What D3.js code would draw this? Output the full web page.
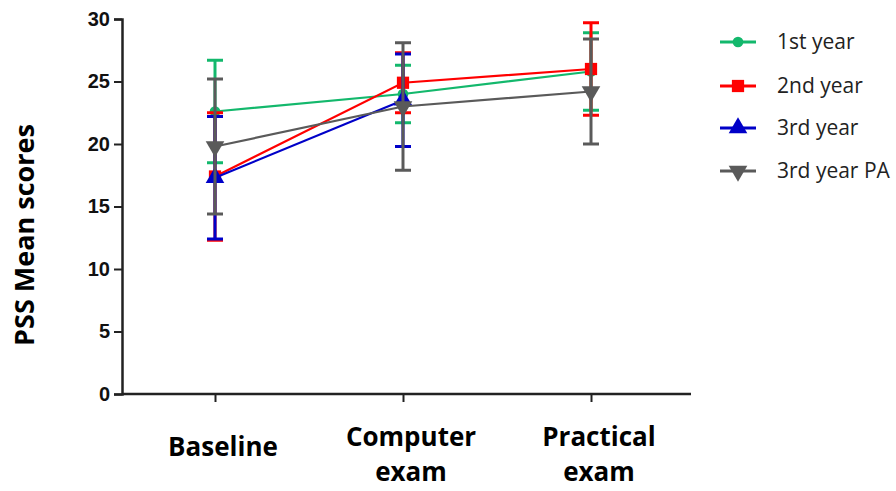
<!DOCTYPE html>
<html>
<head>
<meta charset="utf-8">
<script src="https://cdn.jsdelivr.net/npm/d3@7"></script>
<style>
  body { margin: 0; background: #fff; }
</style>
</head>
<body>
<div id="myChart"></div>
<script>
// data
const categories = ["Baseline", "Computer exam", "Practical exam"];
const seriesNames = ["1st year", "2nd year", "3rd year", "3rd year PA"];
const firstYearMean = [22.6, 24.0, 25.8];
const firstYearSD = [4.1, 2.3, 3.1];
const secondYearMean = [17.4, 24.9, 26.0];
const secondYearSD = [5.1, 2.4, 3.7];
const thirdYearMean = [17.3, 23.5];
const thirdYearSD = [4.9, 3.7];
const paMean = [19.8, 23.0, 24.2];
const paSD = [5.4, 5.1, 4.2];
const yTicks = [0, 5, 10, 15, 20, 25, 30];

const colors = ["#13b86c", "#ff0000", "#0000c8", "#5a5a5a"];
const symbols = [d3.symbolCircle, d3.symbolSquare, d3.symbolTriangle, d3.symbolTriangle];

const series = [
  { name: seriesNames[0], mean: firstYearMean, sd: firstYearSD },
  { name: seriesNames[1], mean: secondYearMean, sd: secondYearSD },
  { name: seriesNames[2], mean: thirdYearMean, sd: thirdYearSD },
  { name: seriesNames[3], mean: paMean, sd: paSD }
];

const W = 896, H = 491;
const svg = d3.select("#myChart").append("svg")
  .attr("width", W).attr("height", H);

const y = d3.scaleLinear().domain([0, 30]).range([394, 19]);
const x = d3.scalePoint().domain(categories).range([215, 591]);

// y axis
const yAxis = svg.append("g")
  .attr("transform", "translate(122,0)")
  .call(d3.axisLeft(y).tickValues(yTicks).tickSize(8).tickPadding(4));
yAxis.select(".domain").attr("stroke", "#222").attr("stroke-width", 2.5);
yAxis.selectAll(".tick line").attr("stroke", "#222").attr("stroke-width", 2);
yAxis.selectAll("text")
  .style("font-family", "'Liberation Sans', Arial, sans-serif")
  .style("font-weight", "bold")
  .style("font-size", "20px")
  .attr("fill", "#111");

// x axis
const xAxis = svg.append("g")
  .attr("transform", "translate(0,394)")
  .call(d3.axisBottom(x).tickSize(8).tickSizeOuter(0).tickFormat(""));
xAxis.select(".domain").attr("d", "M122,0H691").attr("stroke", "#222").attr("stroke-width", 2.5);
xAxis.selectAll(".tick line").attr("stroke", "#222").attr("stroke-width", 2);

// category labels
const catLines = [["Baseline"], ["Computer", "exam"], ["Practical", "exam"]];
categories.forEach((c, i) => {
  const t = svg.append("text")
    .attr("x", x(c) + 8)
    .attr("y", catLines[i].length === 1 ? 456 : 446)
    .attr("text-anchor", "middle")
    .style("font-family", "'Open Sans', sans-serif")
    .style("font-weight", "bold")
    .style("font-size", "26px")
    .attr("fill", "#000");
  catLines[i].forEach((ln, j) => {
    t.append("tspan").attr("x", x(c) + 8).attr("dy", j === 0 ? 0 : 35).text(ln);
  });
});

// y label
svg.append("text")
  .attr("transform", "translate(34,235) rotate(-90)")
  .attr("text-anchor", "middle")
  .style("font-family", "'Open Sans', sans-serif")
  .style("font-weight", "bold")
  .style("font-size", "27px")
  .attr("fill", "#000")
  .text("PSS Mean scores");

// lines, error bars, markers
const line = d3.line().x((d, i) => x(categories[i])).y((d) => y(d));
const capW = 8;

series.forEach((s, k) => {
  const g = svg.append("g");
  g.append("path")
    .datum(s.mean)
    .attr("d", line)
    .attr("fill", "none")
    .attr("stroke", colors[k])
    .attr("stroke-width", 2.2);

  s.mean.forEach((m, i) => {
    const cx = x(categories[i]);
    const lo = y(m - s.sd[i]), hi = y(m + s.sd[i]);
    g.append("line").attr("x1", cx).attr("x2", cx).attr("y1", lo).attr("y2", hi)
      .attr("stroke", colors[k]).attr("stroke-width", 3);
    [lo, hi].forEach((yy) => {
      g.append("line").attr("x1", cx - capW).attr("x2", cx + capW).attr("y1", yy).attr("y2", yy)
        .attr("stroke", colors[k]).attr("stroke-width", 3);
    });
  });

  g.selectAll(".pt")
    .data(s.mean)
    .enter()
    .append("path")
    .attr("d", d3.symbol().type(symbols[k]).size(k === 0 ? 90 : 150))
    .attr("transform", (d, i) => "translate(" + x(categories[i]) + "," + y(d) + ")" + (k === 3 ? " rotate(180)" : ""))
    .attr("fill", colors[k]);
});

// legend
const legY = [42, 86, 128, 171];
series.forEach((s, k) => {
  const lg = svg.append("g").attr("transform", "translate(738," + legY[k] + ")");
  lg.append("line").attr("x1", -18).attr("x2", 18).attr("stroke", colors[k]).attr("stroke-width", 3);
  lg.append("path")
    .attr("d", d3.symbol().type(symbols[k]).size(k === 0 ? 90 : 150))
    .attr("transform", k === 3 ? "rotate(180)" : null)
    .attr("fill", colors[k]);
  lg.append("text")
    .attr("x", 39).attr("dy", "0.35em")
    .style("font-family", "'Open Sans', sans-serif")
    .style("font-size", "21px")
    .attr("fill", "#222")
    .text(s.name);
});
</script>
</body>
</html>
